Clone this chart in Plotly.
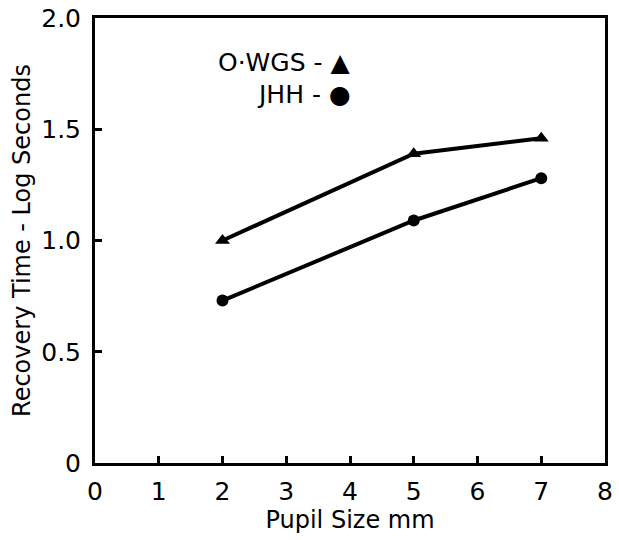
import plotly.graph_objects as go

pupil_size = [2, 5, 7]
wgs = [1.00, 1.39, 1.46]
jhh = [0.73, 1.09, 1.28]
x_ticks = [0, 1, 2, 3, 4, 5, 6, 7, 8]
y_ticks = [0, 0.5, 1.0, 1.5, 2.0]
y_tick_text = ["0", "0.5", "1.0", "1.5", "2.0"]

font_family = "DejaVu Sans, Arial, sans-serif"

fig = go.Figure()
fig.add_trace(go.Scatter(x=pupil_size, y=wgs, mode="lines+markers",
                         line=dict(color="black", width=4),
                         marker=dict(symbol="triangle-up", size=13, color="black"),
                         name="O·WGS", showlegend=False))
fig.add_trace(go.Scatter(x=pupil_size, y=jhh, mode="lines+markers",
                         line=dict(color="black", width=4),
                         marker=dict(symbol="circle", size=12, color="black"),
                         name="JHH", showlegend=False))

fig.add_annotation(x=0.505, y=0.9, xref="paper", yref="paper", xanchor="right",
                   yanchor="middle", showarrow=False, text="O·WGS - ▲",
                   font=dict(size=25, color="black", family=font_family))
fig.add_annotation(x=0.505, y=0.828, xref="paper", yref="paper", xanchor="right",
                   yanchor="middle", showarrow=False, text="JHH - ●",
                   font=dict(size=25, color="black", family=font_family))

fig.update_layout(
    width=619, height=540,
    margin=dict(l=95, r=14, t=18, b=77),
    paper_bgcolor="white", plot_bgcolor="white",
    font=dict(family=font_family, color="black"),
)
fig.update_xaxes(range=[0, 8], tickvals=x_ticks, ticks="inside", ticklen=7,
                 tickwidth=3, tickcolor="black", showgrid=False, zeroline=False,
                 showline=True, linewidth=3, linecolor="black", mirror=True,
                 automargin=False, ticklabelstandoff=4, ticklabeloverflow="allow",
                 tickfont=dict(size=25), title=dict(text="Pupil Size mm",
                 font=dict(size=24), standoff=2))
fig.update_yaxes(range=[0, 2.0], tickvals=y_ticks, ticktext=y_tick_text,
                 ticks="inside", ticklen=7, tickwidth=3, tickcolor="black",
                 showgrid=False, zeroline=False, showline=True, linewidth=3,
                 linecolor="black", mirror=True, automargin=False,
                 ticklabelstandoff=6, ticklabeloverflow="allow",
                 tickfont=dict(size=25),
                 title=dict(text="Recovery Time - Log Seconds", font=dict(size=24),
                            standoff=4))

# remove the browser's default 8px body margin so the figure fills the window
fig.write_html("out.html",
               config={"displayModeBar": False},
               post_script="document.body.style.margin='0';document.body.style.overflow='hidden';")
